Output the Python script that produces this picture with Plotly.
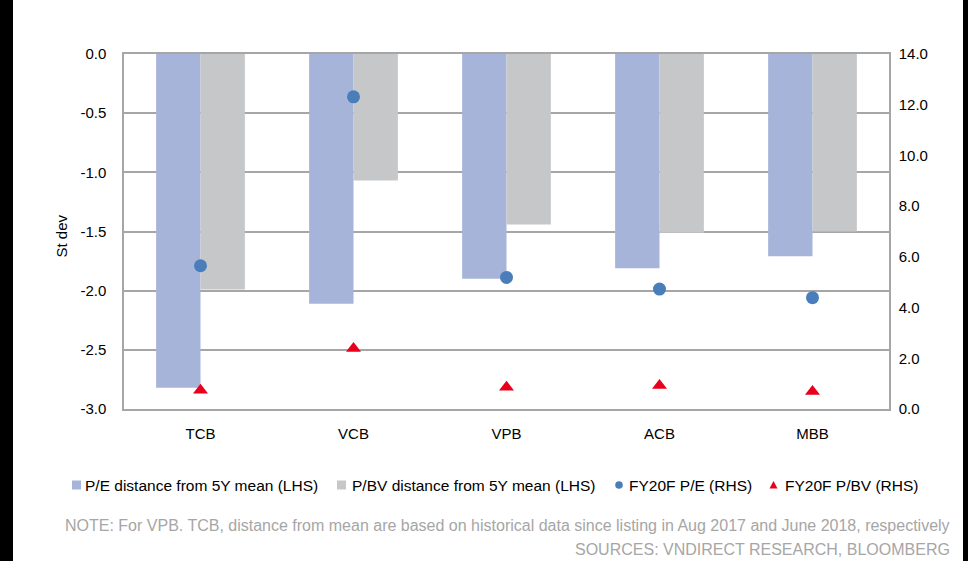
import plotly.graph_objects as go

# Bank valuation: distance from 5-year mean (st dev) and FY20 forecast multiples
banks = ["TCB", "VCB", "VPB", "ACB", "MBB"]
pe_distance = [-2.82, -2.11, -1.90, -1.81, -1.71]
pbv_distance = [-1.99, -1.07, -1.44, -1.51, -1.50]
fy20f_pe = [5.65, 12.31, 5.19, 4.73, 4.39]
fy20f_pbv = [0.74, 2.39, 0.86, 0.93, 0.69]

left_ticks = [0.0, -0.5, -1.0, -1.5, -2.0, -2.5, -3.0]
left_tick_text = ["0.0", "-0.5", "-1.0", "-1.5", "-2.0", "-2.5", "-3.0"]
right_ticks = [0, 2, 4, 6, 8, 10, 12, 14]
right_tick_text = ["0.0", "2.0", "4.0", "6.0", "8.0", "10.0", "12.0", "14.0"]

series_names = [
    "P/E distance from 5Y mean (LHS)",
    "P/BV distance from 5Y mean (LHS)",
    "FY20F P/E (RHS)",
    "FY20F P/BV (RHS)",
]
series_colors = ["#a7b4da", "#c6c7c9", "#4a7ebb", "#e8001c"]

note_text = ("NOTE: For VPB. TCB, distance from mean are based on historical data "
             "since listing in Aug 2017 and June 2018, respectively")
source_text = "SOURCES: VNDIRECT RESEARCH, BLOOMBERG"

# canvas and plot-area geometry (pixels)
W, H = 971, 561
ML, MR, MT, MB = 124, 82, 54, 152
PW, PH = W - ML - MR, H - MT - MB


def px_x(px):
    return (px - ML) / PW


def px_y(py):
    return (H - MB - py) / PH


FONT = "Arial, Liberation Sans, sans-serif"
GRID = "#a6a6a6"
GREY_TEXT = "#a6a6a6"

fig = go.Figure()
fig.add_trace(go.Bar(x=banks, y=pe_distance, name=series_names[0],
                     marker=dict(color=series_colors[0], line=dict(width=0)), yaxis="y"))
fig.add_trace(go.Bar(x=banks, y=pbv_distance, name=series_names[1],
                     marker=dict(color=series_colors[1], line=dict(width=0)), yaxis="y"))
fig.add_trace(go.Scatter(x=banks, y=fy20f_pe, name=series_names[2], mode="markers",
                         marker=dict(symbol="circle", size=13, color=series_colors[2]),
                         yaxis="y2"))
fig.add_trace(go.Scatter(x=banks, y=fy20f_pbv, name=series_names[3], mode="markers",
                         marker=dict(symbol="triangle-up", size=13, color=series_colors[3]),
                         yaxis="y2"))

# black frame edges on both sides of the page
fig.add_shape(type="rect", xref="paper", yref="paper",
              x0=px_x(0), x1=px_x(13), y0=px_y(H), y1=px_y(0),
              fillcolor="black", line=dict(width=0), layer="above")
fig.add_shape(type="rect", xref="paper", yref="paper",
              x0=px_x(963), x1=px_x(968), y0=px_y(H), y1=px_y(0),
              fillcolor="black", line=dict(width=0), layer="above")

# legend row: compact key icons followed by their labels
LEG_Y = 485
icon_centres = [76.5, 341.5, 619, 773.5]
label_starts = [83, 350, 627, 783]
for i, name in enumerate(series_names):
    cx = icon_centres[i]
    if i < 2:
        fig.add_shape(type="rect", xref="paper", yref="paper",
                      x0=px_x(cx - 4.5), x1=px_x(cx + 4.5),
                      y0=px_y(LEG_Y + 4.5), y1=px_y(LEG_Y - 4.5),
                      fillcolor=series_colors[i], line=dict(width=0))
    elif i == 2:
        fig.add_shape(type="circle", xref="paper", yref="paper",
                      x0=px_x(cx - 3.8), x1=px_x(cx + 3.8),
                      y0=px_y(LEG_Y + 3.8), y1=px_y(LEG_Y - 3.8),
                      fillcolor=series_colors[i], line=dict(width=0))
    else:
        path = "M {:.5f},{:.5f} L {:.5f},{:.5f} L {:.5f},{:.5f} Z".format(
            px_x(cx - 4), px_y(LEG_Y + 3.5),
            px_x(cx + 4), px_y(LEG_Y + 3.5),
            px_x(cx), px_y(LEG_Y - 4))
        fig.add_shape(type="path", xref="paper", yref="paper", path=path,
                      fillcolor=series_colors[i], line=dict(width=0))
    fig.add_annotation(text=name, xref="paper", yref="paper",
                       x=px_x(label_starts[i]), y=px_y(LEG_Y),
                       xanchor="left", yanchor="middle", showarrow=False,
                       font=dict(family=FONT, size=15.5, color="#000000"))

fig.add_annotation(text="St dev", xref="paper", yref="paper",
                   x=px_x(50), y=px_y(236), textangle=-90, showarrow=False,
                   font=dict(family=FONT, size=15, color="#000000"))
fig.add_annotation(text=note_text, xref="paper", yref="paper",
                   x=px_x(952), y=px_y(525), xanchor="right", yanchor="middle",
                   showarrow=False, font=dict(family=FONT, size=16, color=GREY_TEXT))
fig.add_annotation(text=source_text, xref="paper", yref="paper",
                   x=px_x(952), y=px_y(549), xanchor="right", yanchor="middle",
                   showarrow=False, font=dict(family=FONT, size=16, color=GREY_TEXT))

fig.update_layout(
    width=W, height=H,
    margin=dict(l=ML, r=MR, t=MT, b=MB, autoexpand=False),
    paper_bgcolor="white", plot_bgcolor="white",
    font=dict(family=FONT, size=15, color="#000000"),
    barmode="group", bargap=0.42, bargroupgap=0,
    showlegend=False,
    xaxis=dict(type="category", showgrid=False, showline=True, mirror=True,
               linecolor=GRID, linewidth=1.5, ticks="", ticklabelstandoff=10,
               tickfont=dict(family=FONT, size=15)),
    yaxis=dict(range=[-3, 0], tickvals=left_ticks, ticktext=left_tick_text,
               showgrid=True, gridcolor=GRID, gridwidth=1.5, zeroline=False,
               showline=True, linecolor=GRID, linewidth=1.5, ticks="",
               ticklabelstandoff=13, tickfont=dict(family=FONT, size=15)),
    yaxis2=dict(range=[0, 14], tickvals=right_ticks, ticktext=right_tick_text,
                overlaying="y", side="right", showgrid=False, zeroline=False,
                showline=True, linecolor=GRID, linewidth=1.5, ticks="",
                ticklabelstandoff=5, tickfont=dict(family=FONT, size=15)),
)

fig.write_html("out.html")
